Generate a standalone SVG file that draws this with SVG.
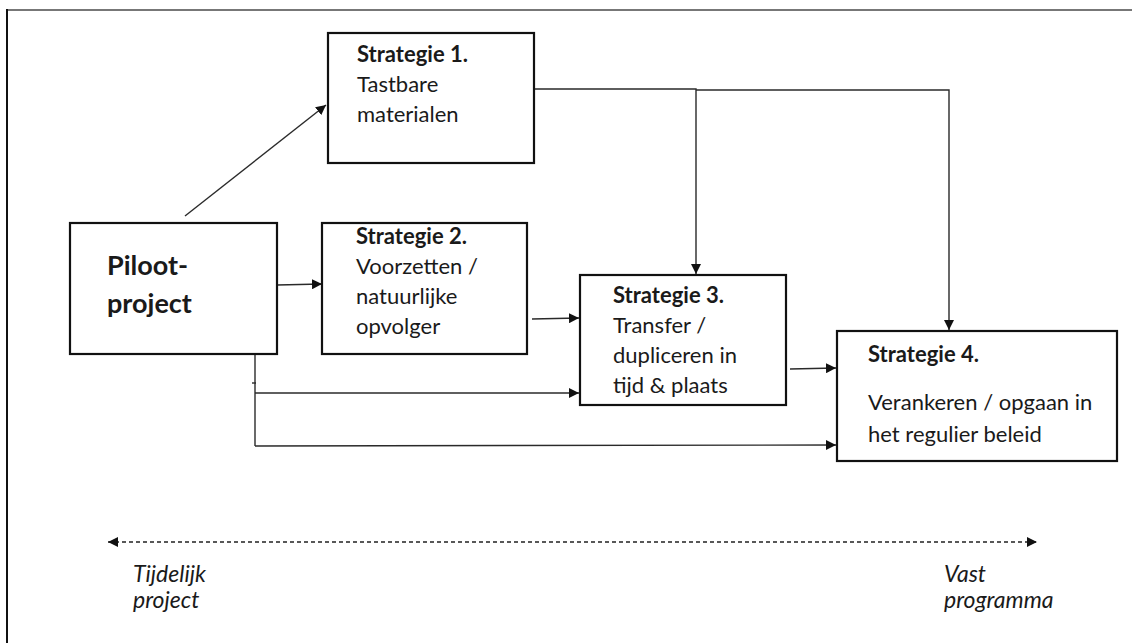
<svg xmlns="http://www.w3.org/2000/svg" width="1132" height="643" viewBox="0 0 1132 643">
  <style>
    .box { fill: #ffffff; stroke: #111111; stroke-width: 2.2; }
    .lbl { font-family: Lato, "Open Sans", "Liberation Sans", sans-serif; font-size: 22px; fill: #1a1a1a; }
    .hd { font-weight: bold; }
    .big { font-size: 27px; font-weight: bold; }
    .ax { font-family: Lato, "Open Sans", "Liberation Sans", sans-serif; font-size: 23px; font-style: italic; fill: #1a1a1a; }
    .wire { fill: none; stroke: #2a2a2a; stroke-width: 1.4; }
    .dash { fill: none; stroke: #222222; stroke-width: 1.4; stroke-dasharray: 4 3; }
  </style>
  <defs>
    <marker id="tip" viewBox="0 0 10 10" refX="10" refY="5" markerWidth="10" markerHeight="10" markerUnits="userSpaceOnUse" orient="auto-start-reverse">
      <path d="M0,0 L10,5 L0,10 Z" fill="#111111"/>
    </marker>
  </defs>

  <rect width="1132" height="643" fill="#ffffff"/>

  <!-- page frame -->
  <g id="frame">
    <line x1="6" y1="10" x2="1132" y2="10" stroke="#777777" stroke-width="2"/>
    <line x1="7" y1="9" x2="7" y2="643" stroke="#111111" stroke-width="2"/>
  </g>

  <!-- connectors -->
  <g id="connectors">
    <line class="wire" x1="185" y1="216" x2="326" y2="105" marker-end="url(#tip)"/>
    <line class="wire" x1="277" y1="285" x2="322" y2="284" marker-end="url(#tip)"/>
    <line class="wire" x1="532" y1="319" x2="579" y2="318" marker-end="url(#tip)"/>
    <line class="wire" x1="790" y1="369" x2="836" y2="368" marker-end="url(#tip)"/>
    <polyline class="wire" points="535,89 696,89 696,274" marker-end="url(#tip)"/>
    <polyline class="wire" points="696,90 949,90 949,330" marker-end="url(#tip)"/>
    <line class="wire" x1="255" y1="355" x2="255" y2="446"/>
    <line class="wire" x1="252" y1="383" x2="256" y2="383"/>
    <line class="wire" x1="255" y1="393" x2="579" y2="393" marker-end="url(#tip)"/>
    <line class="wire" x1="255" y1="446" x2="836" y2="445" marker-end="url(#tip)"/>
  </g>

  <!-- nodes -->
  <g id="piloot">
    <rect class="box" x="70" y="223" width="207" height="131"/>
    <text class="lbl big" x="107" y="275">Piloot-</text>
    <text class="lbl big" x="107" y="313">project</text>
  </g>

  <g id="strategie1">
    <rect class="box" x="328" y="33" width="206" height="130"/>
    <text class="lbl hd" x="357" y="62">Strategie 1.</text>
    <text class="lbl" x="357" y="92">Tastbare</text>
    <text class="lbl" x="357" y="122">materialen</text>
  </g>

  <g id="strategie2">
    <rect class="box" x="322" y="223" width="205" height="131"/>
    <text class="lbl hd" x="356" y="244">Strategie 2.</text>
    <text class="lbl" x="356" y="274">Voorzetten /</text>
    <text class="lbl" x="356" y="304">natuurlijke</text>
    <text class="lbl" x="356" y="334">opvolger</text>
  </g>

  <g id="strategie3">
    <rect class="box" x="580" y="275" width="206" height="130"/>
    <text class="lbl hd" x="613" y="303">Strategie 3.</text>
    <text class="lbl" x="613" y="333">Transfer /</text>
    <text class="lbl" x="613" y="363">dupliceren in</text>
    <text class="lbl" x="613" y="393">tijd &amp; plaats</text>
  </g>

  <g id="strategie4">
    <rect class="box" x="837" y="331" width="280" height="130"/>
    <text class="lbl hd" x="868" y="362">Strategie 4.</text>
    <text class="lbl" x="868" y="410">Verankeren / opgaan in</text>
    <text class="lbl" x="868" y="442">het regulier beleid</text>
  </g>

  <!-- time axis -->
  <g id="axis">
    <line class="dash" x1="108" y1="542" x2="1037" y2="542" marker-start="url(#tip)" marker-end="url(#tip)"/>
    <text class="ax" x="133" y="582">Tijdelijk</text>
    <text class="ax" x="133" y="608">project</text>
    <text class="ax" x="944" y="582">Vast</text>
    <text class="ax" x="944" y="608">programma</text>
  </g>
</svg>
